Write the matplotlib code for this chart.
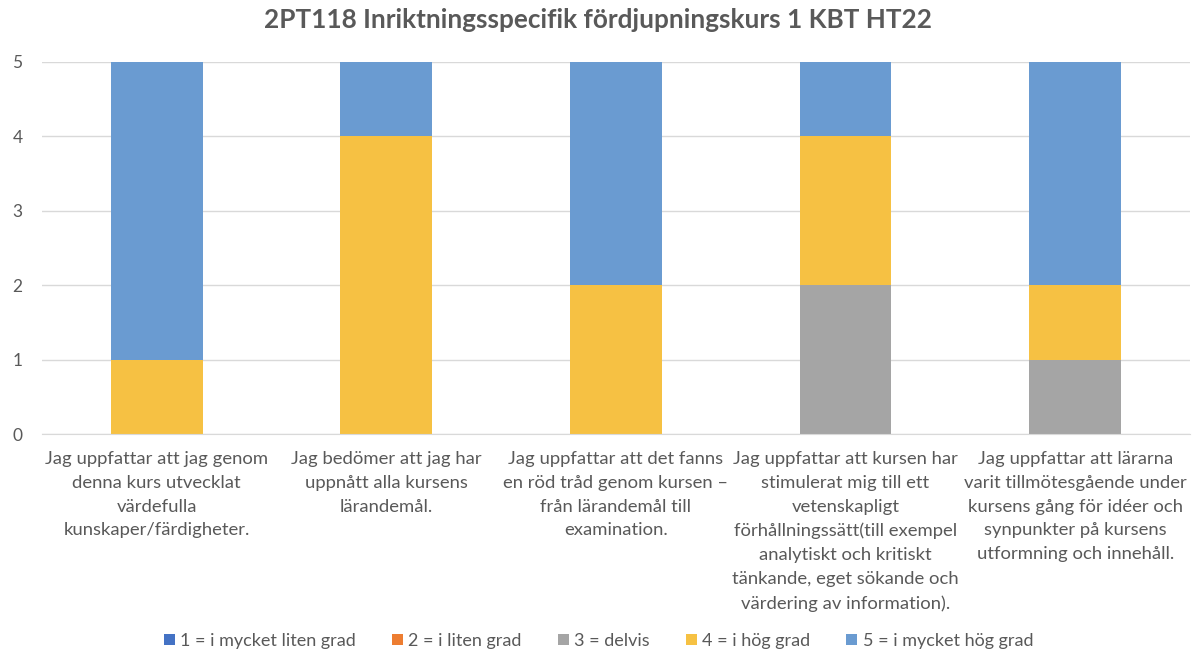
import matplotlib.pyplot as plt
import numpy as np

plt.rcParams['font.family'] = ['Lato', 'DejaVu Sans']

categories = [
    "Jag uppfattar att jag genom\ndenna kurs utvecklat\nvärdefulla\nkunskaper/färdigheter.",
    "Jag bedömer att jag har\nuppnått alla kursens\nlärandemål.",
    "Jag uppfattar att det fanns\nen röd tråd genom kursen –\nfrån lärandemål till\nexamination.",
    "Jag uppfattar att kursen har\nstimulerat mig till ett\nvetenskapligt\nförhållningssätt(till exempel\nanalytiskt och kritiskt\ntänkande, eget sökande och\nvärdering av information).",
    "Jag uppfattar att lärarna\nvarit tillmötesgående under\nkursens gång för idéer och\nsynpunkter på kursens\nutformning och innehåll.",
]
series_names = ["1 = i mycket liten grad", "2 = i liten grad", "3 = delvis",
                "4 = i hög grad", "5 = i mycket hög grad"]
s1 = [0, 0, 0, 0, 0]
s2 = [0, 0, 0, 0, 0]
s3 = [0, 0, 0, 2, 1]
s4 = [1, 4, 2, 2, 1]
s5 = [4, 1, 3, 1, 3]
colors = ["#4472C4", "#ED7D31", "#A5A5A5", "#F6C143", "#6A9BD1"]

fig = plt.figure(figsize=(11.97, 6.65), dpi=100)
ax = fig.add_axes([0.0351, 0.347, 0.9590, 0.560])

x = np.arange(len(categories))
bottom = np.zeros(len(categories))
for name, vals, c in zip(series_names, [s1, s2, s3, s4, s5], colors):
    ax.bar(x, vals, 0.4, bottom=bottom, color=c, label=name, zorder=2)
    bottom += np.array(vals)

ax.set_xlim(-0.5, len(categories) - 0.5)
ax.set_ylim(0, 5)
ax.set_yticks(range(6))
ax.yaxis.grid(True, color="#D9D9D9", linewidth=1, zorder=0)
for s in ["top", "right", "left"]:
    ax.spines[s].set_visible(False)
ax.spines["bottom"].set_color("#D9D9D9")
ax.tick_params(axis="both", length=0, colors="#595959", labelsize=13.3)
ax.tick_params(axis="y", pad=14, labelsize=12.5)
ax.set_xticks(x)
ax.set_xticklabels(categories, linespacing=1.6)
ax.tick_params(axis="x", pad=12)

fig.suptitle("2PT118 Inriktningsspecifik fördjupningskurs 1 KBT HT22",
             y=0.988, fontsize=18.8, fontweight="bold", color="#595959")

leg = fig.legend(loc="lower center", bbox_to_anchor=(0.5, 0.0), ncol=5,
                 frameon=False, fontsize=13, handlelength=0.6, handleheight=0.6,
                 columnspacing=2.0, handletextpad=0.3)
for t in leg.get_texts():
    t.set_color("#595959")

fig.savefig("out.png", dpi=100)
